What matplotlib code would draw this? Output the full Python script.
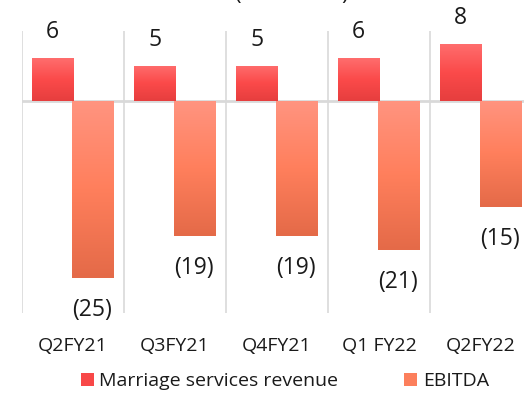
import numpy as np
import matplotlib
matplotlib.use("Agg")
import matplotlib.pyplot as plt
from matplotlib.colors import LinearSegmentedColormap
from matplotlib.patches import Patch

plt.rcParams['font.family'] = ['Open Sans', 'DejaVu Sans']

quarters = ["Q2FY21", "Q3FY21", "Q4FY21", "Q1 FY22", "Q2FY22"]
revenue = [6, 5, 5, 6, 8]
ebitda = [-25, -19, -19, -21, -15]

red_cmap = LinearSegmentedColormap.from_list("red", ["#ff6d6d", "#fb4a4a", "#e63e3e"])
orange_cmap = LinearSegmentedColormap.from_list("orange", ["#ff9480", "#ff7f5c", "#e46a48"])

fig = plt.figure(figsize=(5.24, 3.93), dpi=100)
ax = fig.add_axes([22 / 524, 80 / 393, 502 / 524, 282 / 393])

x = np.arange(len(quarters))
w = 0.41
b1 = ax.bar(x - 0.2, revenue, w, color="#f84848", zorder=2)
b2 = ax.bar(x + 0.2, ebitda, w, color="#fc7f5c", zorder=2)

grad = np.linspace(0, 1, 256).reshape(-1, 1)
for bars, cmap in [(b1, red_cmap), (b2, orange_cmap)]:
    for p in bars:
        x0, y0 = p.get_x(), p.get_y()
        x1, y1 = x0 + p.get_width(), y0 + p.get_height()
        top, bot = max(y0, y1), min(y0, y1)
        im = ax.imshow(grad, cmap=cmap, aspect="auto", extent=(x0, x1, bot, top),
                       origin="upper", zorder=3)
        im.set_clip_path(p)
        p.set_visible(False)

for xi, v in zip(x, revenue):
    ax.annotate(str(v), (xi - 0.2, v), xytext=(0, 26), textcoords="offset pixels",
                ha="center", va="center", fontsize=16.5, color="#1a1a1a")
for xi, v in zip(x, ebitda):
    ax.annotate("(%d)" % abs(v), (xi + 0.2, v), xytext=(-1, -32), textcoords="offset pixels",
                ha="center", va="center", fontsize=16.5, color="#1a1a1a")

for b in np.arange(len(quarters) + 1) - 0.5:
    ax.axvline(b, color="#d9d9d9", lw=1.2, zorder=1)
ax.axhline(0, color="#d9d9d9", lw=2, zorder=1)

ax.set_xlim(-0.5, -0.5 + 502 / 102)
ax.set_ylim(-29.86, 9.86)
ax.set_yticks([])
ax.set_xticks(x)
ax.set_xticklabels(quarters, fontsize=14, color="#1a1a1a")
ax.tick_params(axis="x", length=0, pad=17)
for s in ax.spines.values():
    s.set_visible(False)

handles = [Patch(facecolor="#f84848", label="Marriage services revenue"),
           Patch(facecolor="#fc7f5c", label="EBITDA")]
fig.legend(handles=handles, loc="center", bbox_to_anchor=(285 / 524, 1 - 381 / 393),
           ncol=2, frameon=False, fontsize=14, handlelength=0.65, handleheight=0.65,
           handletextpad=0.3, columnspacing=3.4, labelcolor="#1a1a1a")

fig.text(292 / 524, 1.0, "(INR Crore)", ha="center", va="baseline", fontsize=16, color="#1a1a1a")

fig.savefig("out.png", dpi=100)
